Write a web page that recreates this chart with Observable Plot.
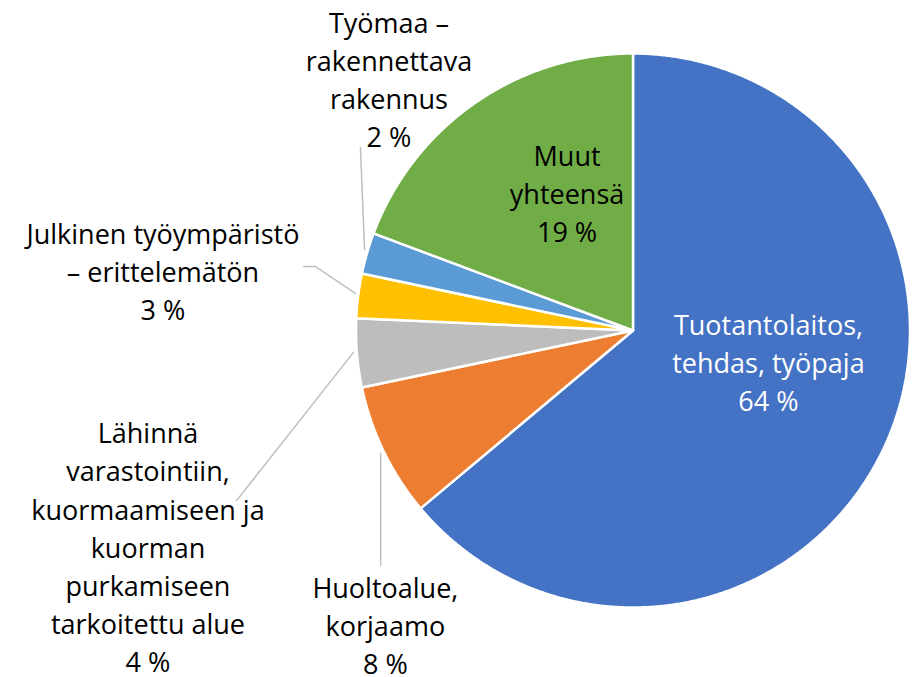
<!DOCTYPE html>
<html>
<head>
<meta charset="utf-8">
<script src="https://cdn.jsdelivr.net/npm/d3@7"></script>
<script src="https://cdn.jsdelivr.net/npm/@observablehq/plot@0.6"></script>
<style>
  html, body { margin: 0; padding: 0; background: #fff; }
  #chart { width: 915px; height: 677px; }
</style>
</head>
<body>
<div id="chart"></div>
<script>
// ---- data ----
const categories = [
  "Tuotantolaitos, tehdas, työpaja",
  "Huoltoalue, korjaamo",
  "Lähinnä varastointiin, kuormaamiseen ja kuorman purkamiseen tarkoitettu alue",
  "Julkinen työympäristö – erittelemätön",
  "Työmaa – rakennettava rakennus",
  "Muut yhteensä"
];
const values = [63.9, 7.8, 4.0, 2.6, 2.4, 19.3];
const percentLabels = ["64 %", "8 %", "4 %", "3 %", "2 %", "19 %"];
const labelTexts = [
  "Tuotantolaitos,\ntehdas, työpaja",
  "Huoltoalue,\nkorjaamo",
  "Lähinnä\nvarastointiin,\nkuormaamiseen ja\nkuorman\npurkamiseen\ntarkoitettu alue",
  "Julkinen työympäristö\n– erittelemätön",
  "Työmaa –\nrakennettava\nrakennus",
  "Muut\nyhteensä"
];
const colors = ["#4472C4", "#ED7D31", "#BDBDBD", "#FFC000", "#5B9BD5", "#70AD47"];

// ---- layout (unit-circle coordinates) ----
const labelPos = [
  [0.489, -0.108], [-0.894, -1.058], [-1.751, -0.776],
  [-1.697, 0.220], [-0.881, 0.913], [-0.238, 0.502]
];
const labelFill = ["white", "black", "black", "black", "black", "black"];
const leaders = [
  {name: "Työmaa", pts: [[-0.984, 0.661], [-0.969, 0.292]]},
  {name: "Julkinen", pts: [[-1.189, 0.231], [-1.146, 0.231], [-1.002, 0.134]]},
  {name: "Lähinnä", pts: [[-1.009, -0.079], [-1.431, -0.614]]},
  {name: "Huolto", pts: [[-0.911, -0.444], [-0.911, -0.848]]}
];

// ---- geometry from data ----
const arcs = d3.pie().sort(null).value(d => d)(values);
const slicePts = [];
arcs.forEach((a, i) => {
  const name = categories[i];
  slicePts.push({name, x: 0, y: 0});
  const n = Math.max(2, Math.ceil((a.endAngle - a.startAngle) / 0.005));
  for (let k = 0; k <= n; k++) {
    const t = a.startAngle + (a.endAngle - a.startAngle) * k / n;
    slicePts.push({name, x: Math.sin(t), y: Math.cos(t)});
  }
  slicePts.push({name, x: 0, y: 0});
});
const labels = categories.map((c, i) => ({
  name: c,
  text: labelTexts[i] + "\n" + percentLabels[i],
  x: labelPos[i][0], y: labelPos[i][1], fill: labelFill[i]
}));
const leaderPts = leaders.flatMap(l => l.pts.map(p => ({name: l.name, x: p[0], y: p[1]})));

const cx = 632.5, cy = 330, r = 277;
const chart = Plot.plot({
  width: 915,
  height: 677,
  margin: 0,
  style: {fontFamily: "'Open Sans', sans-serif", background: "white"},
  x: {domain: [-1, 1], range: [cx - r, cx + r], axis: null},
  y: {domain: [-1, 1], range: [cy + r, cy - r], axis: null},
  color: {domain: categories, range: colors},
  marks: [
    Plot.line(slicePts, {x: "x", y: "y", z: "name", fill: "name", stroke: "white", strokeWidth: 2.5, strokeLinejoin: "miter"}),
    Plot.line(leaderPts, {x: "x", y: "y", z: "name", stroke: "#BFBFBF", strokeWidth: 1.5}),
    Plot.text(labels, {x: "x", y: "y", text: "text", fill: d => d.fill, fontSize: 27, lineHeight: 1.41, lineAnchor: "middle", textAnchor: "middle"})
  ]
});
document.getElementById("chart").appendChild(chart);
</script>
</body>
</html>
